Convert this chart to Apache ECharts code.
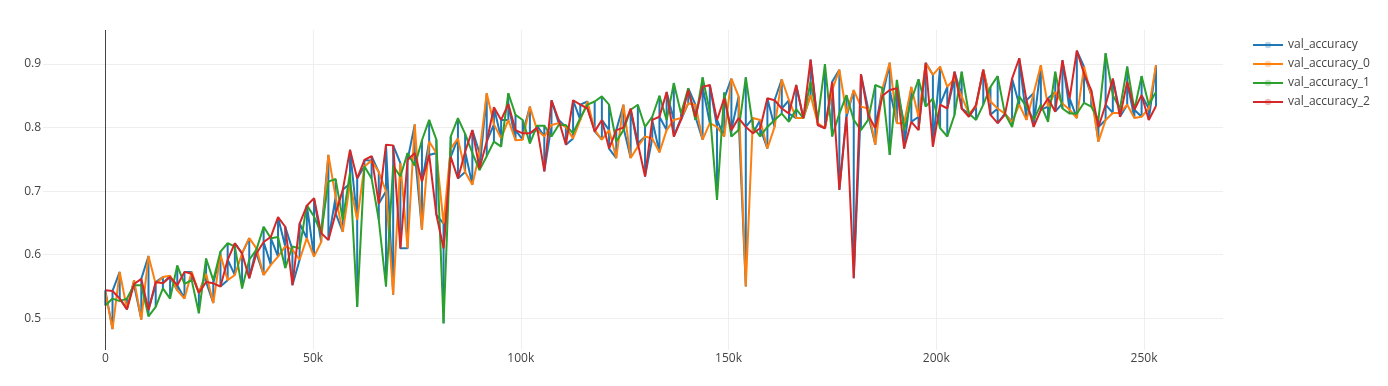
<!DOCTYPE html>
<html>
<head>
<meta charset="utf-8">
<script src="https://cdn.jsdelivr.net/npm/echarts@6.0.0/dist/echarts.min.js"></script>
<style>
  html, body { margin: 0; padding: 0; background: #fff; }
  #chart { width: 1388px; height: 386px; }
</style>
</head>
<body>
<div id="chart"></div>
<script>
// ---- data ----
const evalInterval = 1732; // training steps between evaluations

// val_accuracy_0
const run0 = [
  0.541, 0.483, 0.573, 0.515, 0.56, 0.498, 0.598, 0.554, 0.565, 0.567, 0.544, 0.531,
  0.573, 0.54, 0.57, 0.524, 0.60,
  0.56, 0.568, 0.602, 0.626, 0.61, 0.568, 0.584, 0.597, 0.613, 0.608, 0.592, 0.626, 0.597, 0.62, 0.757, 0.691, 0.636, 0.712, 0.655,
  0.739, 0.748, 0.73, 0.70, 0.537, 0.744, 0.61, 0.805, 0.639, 0.778, 0.76, 0.649, 0.767, 0.783, 0.73, 0.71, 0.76, 0.854, 0.805, 0.783, 0.812, 0.78,
  0.781, 0.833, 0.796, 0.786, 0.804, 0.807, 0.801, 0.783, 0.812, 0.841, 0.796, 0.781, 0.796, 0.752, 0.836, 0.752, 0.77, 0.786, 0.783, 0.761,
  0.796, 0.812, 0.815, 0.838, 0.836, 0.781, 0.807, 0.801, 0.786, 0.877, 0.849, 0.55, 0.815, 0.812, 0.767, 0.801, 0.876, 0.843, 0.815,
  0.815, 0.851, 0.807, 0.799, 0.859, 0.891, 0.822, 0.859, 0.833, 0.83, 0.773, 0.862, 0.902, 0.807, 0.807, 0.864, 0.817, 0.901,
  0.883, 0.896, 0.864, 0.877, 0.849, 0.822, 0.833, 0.891, 0.841, 0.83, 0.822, 0.809, 0.836, 0.812, 0.854, 0.898, 0.833, 0.856, 0.838, 0.828, 0.815,
  0.896, 0.851, 0.778, 0.812, 0.823, 0.823, 0.836, 0.815, 0.817, 0.83, 0.898
];

// val_accuracy_1
const run1 = [
  0.52, 0.531, 0.527, 0.531, 0.552, 0.552, 0.503, 0.518, 0.547, 0.531, 0.583, 0.554,
  0.56, 0.508, 0.594, 0.56, 0.605,
  0.618, 0.613, 0.547, 0.592, 0.608, 0.644, 0.626, 0.628, 0.579, 0.613, 0.61, 0.678, 0.66, 0.634, 0.715, 0.719, 0.655, 0.729, 0.518,
  0.739, 0.72, 0.655, 0.55, 0.74, 0.723, 0.76, 0.74, 0.78, 0.812, 0.781, 0.492, 0.786, 0.815, 0.79, 0.76, 0.733, 0.755, 0.778, 0.77, 0.854, 0.82,
  0.812, 0.775, 0.803, 0.803, 0.786, 0.804, 0.804, 0.791, 0.815, 0.836, 0.841, 0.849, 0.836, 0.778, 0.796, 0.828, 0.836, 0.801, 0.817, 0.85,
  0.812, 0.87, 0.822, 0.862, 0.812, 0.879, 0.825, 0.686, 0.855, 0.786, 0.796, 0.879, 0.801, 0.786, 0.801, 0.812, 0.822, 0.809, 0.829,
  0.815, 0.872, 0.812, 0.9, 0.786, 0.822, 0.851, 0.812, 0.796, 0.812, 0.867, 0.862, 0.757, 0.875, 0.796, 0.843, 0.876, 0.833,
  0.846, 0.799, 0.786, 0.82, 0.888, 0.822, 0.812, 0.836, 0.864, 0.881, 0.822, 0.801, 0.849, 0.833, 0.812, 0.836, 0.809, 0.888, 0.83, 0.822, 0.822,
  0.839, 0.833, 0.812, 0.917, 0.851, 0.83, 0.896, 0.828, 0.881, 0.836, 0.856
];

// val_accuracy_2
const run2 = [
  0.544, 0.543, 0.531, 0.514, 0.554, 0.562, 0.513, 0.557, 0.555, 0.565, 0.552, 0.573,
  0.57, 0.54, 0.557, 0.555, 0.55,
  0.592, 0.618, 0.602, 0.563, 0.602, 0.62, 0.628, 0.659, 0.644, 0.552, 0.649, 0.677, 0.689, 0.634, 0.623, 0.665, 0.702, 0.765, 0.72,
  0.749, 0.755, 0.68, 0.773, 0.772, 0.61, 0.749, 0.76, 0.715, 0.757, 0.663, 0.61, 0.754, 0.72, 0.762, 0.796, 0.736, 0.778, 0.832, 0.812, 0.837, 0.796,
  0.791, 0.791, 0.80, 0.731, 0.843, 0.812, 0.773, 0.843, 0.836, 0.83, 0.794, 0.812, 0.767, 0.796, 0.80, 0.83, 0.775, 0.723, 0.812, 0.817,
  0.856, 0.786, 0.812, 0.859, 0.817, 0.864, 0.867, 0.812, 0.846, 0.796, 0.815, 0.801, 0.791, 0.799, 0.846, 0.843, 0.83, 0.822, 0.867,
  0.815, 0.907, 0.804, 0.799, 0.872, 0.702, 0.817, 0.563, 0.884, 0.82, 0.799, 0.85, 0.859, 0.862, 0.767, 0.809, 0.796, 0.902,
  0.77, 0.836, 0.83, 0.888, 0.83, 0.817, 0.836, 0.891, 0.82, 0.807, 0.82, 0.877, 0.909, 0.843, 0.801, 0.828, 0.846, 0.825, 0.906, 0.846, 0.921,
  0.885, 0.859, 0.801, 0.836, 0.877, 0.817, 0.872, 0.828, 0.851, 0.812, 0.834
];

// val_accuracy: the combined log, three evaluations logged at each step
const valAccuracy = [
  [0.541,0.52,0.544],[0.483,0.531,0.543],[0.573,0.527,0.531],[0.515,0.531,0.514],[0.56,0.552,0.554],
  [0.498,0.552,0.562],[0.598,0.503,0.513],[0.554,0.518,0.557],[0.565,0.547,0.555],[0.567,0.531,0.565],
  [0.544,0.583,0.552],[0.531,0.554,0.573],[0.573,0.56,0.57],[0.54,0.508,0.54],[0.57,0.594,0.557],
  [0.524,0.56,0.555],[0.60,0.605,0.55],[0.56,0.618,0.592],[0.568,0.613,0.618],[0.602,0.547,0.602],
  [0.626,0.592,0.563],[0.61,0.608,0.602],[0.568,0.644,0.62],[0.584,0.626,0.628],[0.597,0.628,0.659],
  [0.613,0.579,0.644],[0.608,0.613,0.552],[0.592,0.61,0.649],[0.626,0.678,0.677],[0.597,0.66,0.689],
  [0.62,0.634,0.634],[0.757,0.715,0.623],[0.691,0.719,0.665],[0.636,0.655,0.702],[0.712,0.729,0.765],
  [0.655,0.518,0.72],[0.739,0.739,0.749],[0.748,0.72,0.755],[0.73,0.655,0.68],[0.70,0.55,0.773],
  [0.537,0.74,0.772],[0.744,0.723,0.61],[0.61,0.76,0.749],[0.805,0.74,0.76],[0.639,0.78,0.715],
  [0.778,0.812,0.757],[0.76,0.781,0.663],[0.649,0.492,0.61],[0.767,0.786,0.754],[0.783,0.815,0.72],
  [0.73,0.79,0.762],[0.71,0.76,0.796],[0.76,0.733,0.736],[0.854,0.755,0.778],[0.805,0.778,0.832],
  [0.783,0.77,0.812],[0.812,0.854,0.837],[0.78,0.82,0.796],[0.781,0.812,0.791],[0.833,0.775,0.791],
  [0.796,0.803,0.80],
  [0.786,0.803,0.731],[0.804,0.786,0.843],[0.807,0.804,0.812],[0.801,0.804,0.773],[0.783,0.791,0.843],
  [0.812,0.815,0.836],[0.841,0.836,0.83],[0.796,0.841,0.794],[0.781,0.849,0.812],[0.796,0.836,0.767],
  [0.752,0.778,0.796],[0.836,0.796,0.80],[0.752,0.828,0.83],[0.77,0.836,0.775],[0.786,0.801,0.723],
  [0.783,0.817,0.812],[0.761,0.85,0.817],[0.796,0.812,0.856],[0.812,0.87,0.786],[0.815,0.822,0.812],
  [0.838,0.862,0.859],[0.836,0.812,0.817],[0.781,0.879,0.864],[0.807,0.825,0.867],[0.801,0.686,0.812],
  [0.786,0.855,0.846],[0.877,0.786,0.796],[0.849,0.796,0.815],[0.55,0.879,0.801],[0.815,0.801,0.791],
  [0.812,0.786,0.799],[0.767,0.801,0.846],[0.801,0.812,0.843],[0.876,0.822,0.83],[0.843,0.809,0.822],
  [0.815,0.829,0.867],[0.815,0.815,0.815],[0.851,0.872,0.907],[0.807,0.812,0.804],[0.799,0.9,0.799],
  [0.859,0.786,0.872],[0.891,0.822,0.702],[0.822,0.851,0.817],[0.859,0.812,0.563],[0.833,0.796,0.884],
  [0.83,0.812,0.82],[0.773,0.867,0.799],[0.862,0.862,0.85],[0.902,0.757,0.859],
  [0.807,0.875,0.862],[0.807,0.796,0.767],[0.864,0.843,0.809],[0.817,0.876,0.796],[0.901,0.833,0.902],
  [0.883,0.846,0.77],[0.896,0.799,0.836],[0.864,0.786,0.83],[0.877,0.82,0.888],[0.849,0.888,0.83],
  [0.822,0.822,0.817],[0.833,0.812,0.836],[0.891,0.836,0.891],[0.841,0.864,0.82],[0.83,0.881,0.807],
  [0.822,0.822,0.82],[0.809,0.801,0.877],[0.836,0.849,0.909],[0.812,0.833,0.843],[0.854,0.812,0.801],
  [0.898,0.836,0.828],[0.833,0.809,0.846],[0.856,0.888,0.825],[0.838,0.83,0.906],[0.828,0.822,0.846],
  [0.815,0.822,0.921],[0.896,0.839,0.885],[0.851,0.833,0.859],[0.778,0.812,0.801],[0.812,0.917,0.836],
  [0.823,0.851,0.877],[0.823,0.83,0.817],[0.836,0.896,0.872],[0.815,0.828,0.828],[0.817,0.881,0.851],
  [0.83,0.836,0.812],[0.898,0.856,0.834]
];

const seriesNames = ['val_accuracy', 'val_accuracy_0', 'val_accuracy_1', 'val_accuracy_2'];
const seriesColors = ['#1f77b4', '#ff7f0e', '#2ca02c', '#d62728'];

// ---- build ----
const steps = run0.map((_, i) => i * evalInterval);
const pairs = (vals) => vals.map((v, i) => [steps[i], v]);
const mergedPairs = valAccuracy.flatMap((vals, i) => vals.map(v => [steps[i], v]));

const FONT = 'Open Sans';
const chart = echarts.init(document.getElementById('chart'), null, { renderer: 'canvas' });

function lineSeries(name, data, color, extra) {
  return Object.assign({
    name: name,
    type: 'line',
    data: data,
    showSymbol: false,
    symbol: 'circle',
    symbolSize: 6,
    lineStyle: { width: 2, color: color },
    itemStyle: { color: color },
    emphasis: { disabled: true },
    animation: false
  }, extra || {});
}

chart.setOption({
  backgroundColor: '#ffffff',
  animation: false,
  color: seriesColors,
  grid: { left: 43, top: 30, width: 1180, height: 320, containLabel: false },
  legend: {
    orient: 'vertical',
    left: 1247,
    top: 33,
    itemWidth: 30,
    itemHeight: 8,
    itemGap: 5,
    data: seriesNames,
    itemStyle: { opacity: 0.3 },
    textStyle: { fontFamily: FONT, fontSize: 12, color: '#444', lineHeight: 14 }
  },
  xAxis: {
    type: 'value',
    min: -15000,
    max: 269000,
    splitNumber: 5,
    axisLine: { show: false },
    axisTick: { show: false },
    axisLabel: {
      showMinLabel: false,
      showMaxLabel: false,
      margin: 3,
      color: '#444',
      fontFamily: FONT,
      fontSize: 12,
      formatter: v => (v % 50000 === 0 ? (v === 0 ? '0' : (v / 1000) + 'k') : '')
    },
    splitLine: { show: true, showMinLine: false, showMaxLine: false, lineStyle: { color: '#eeeeee', width: 1 } }
  },
  yAxis: {
    type: 'value',
    min: 0.4501,
    max: 0.9535,
    splitNumber: 5,
    axisLine: { show: false },
    axisTick: { show: false },
    axisLabel: {
      showMinLabel: false,
      showMaxLabel: false,
      margin: 2,
      color: '#444',
      fontFamily: FONT,
      fontSize: 12,
      formatter: v => v.toFixed(1)
    },
    splitLine: { show: true, showMinLine: false, showMaxLine: false, lineStyle: { color: '#eeeeee', width: 1 } }
  },
  series: [
    lineSeries(seriesNames[0], mergedPairs, seriesColors[0], {
      markLine: {
        silent: true,
        symbol: ['none', 'none'],
        label: { show: false },
        lineStyle: { color: '#444', width: 1, type: 'solid' },
        emphasis: { disabled: true },
        animation: false,
        data: [{ xAxis: 0 }]
      }
    }),
    lineSeries(seriesNames[1], pairs(run0), seriesColors[1]),
    lineSeries(seriesNames[2], pairs(run1), seriesColors[2]),
    lineSeries(seriesNames[3], pairs(run2), seriesColors[3])
  ]
});
</script>
</body>
</html>
